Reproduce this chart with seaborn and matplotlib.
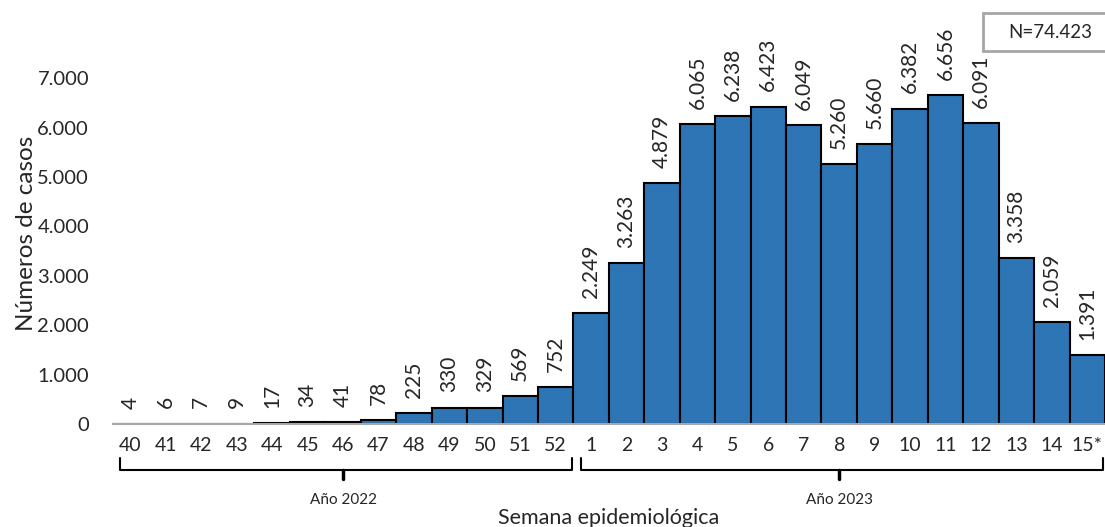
import seaborn as sns
import matplotlib.pyplot as plt
import pandas as pd
from matplotlib.patches import Rectangle

# Weekly cases, epidemiological weeks 40/2022 to 15/2023
weeks = ["40", "41", "42", "43", "44", "45", "46", "47", "48", "49", "50", "51", "52",
         "1", "2", "3", "4", "5", "6", "7", "8", "9", "10", "11", "12", "13", "14", "15*"]
cases = [4, 6, 7, 9, 17, 34, 41, 78, 225, 330, 329, 569, 752,
         2249, 3263, 4879, 6065, 6238, 6423, 6049, 5260, 5660, 6382, 6656, 6091, 3358, 2059, 1391]
years = ["Año 2022", "Año 2023"]
year_counts = [13, 15]
total_label = "N=74.423"

df = pd.DataFrame({"semana": weeks, "casos": cases})

sns.set_style("white")
plt.rcParams["font.family"] = ["Lato", "DejaVu Sans"]

fig = plt.figure(figsize=(11.05, 5.27), dpi=100)
ax = fig.add_axes([0.102, 0.1954, 0.898, 0.7218])

sns.barplot(data=df, x="semana", y="casos", order=weeks, color="#2E75B6",
            saturation=1, width=1, edgecolor="black", linewidth=1.5, ax=ax)

# Rotated value labels with dot as thousands separator
ax.bar_label(ax.containers[0], labels=[f"{v:,}".replace(",", ".") for v in cases],
             rotation=90, padding=11, fontsize=15)

ax.set_xlim(-0.5, len(weeks) - 0.5)
ax.set_ylim(0, 7700)
ax.set_yticks(range(0, 8000, 1000))
ax.set_yticklabels([f"{t:,}".replace(",", ".") for t in range(0, 8000, 1000)], fontsize=14.5)
ax.tick_params(axis="y", length=0, pad=17)
ax.tick_params(axis="x", length=0, pad=9, labelsize=14)

for s in ["left", "right", "top"]:
    ax.spines[s].set_visible(False)
ax.spines["bottom"].set_color("#A6A6A6")
ax.spines["bottom"].set_linewidth(1.5)

ax.set_ylabel("Números de casos", fontsize=17.5, labelpad=0)
ax.set_xlabel("Semana epidemiológica", fontsize=15.5, labelpad=39)

# Year braces under the week labels
trans = ax.get_xaxis_transform()
start = -0.5
for name, n in zip(years, year_counts):
    x0, x1 = start + 0.2, start + n - 0.05
    xm = start + n / 2
    y_top, y_mid, y_tip = -0.09, -0.12, -0.145
    ax.plot([x0, x0, x1, x1], [y_top, y_mid, y_mid, y_top], color="black", lw=1.5,
            transform=trans, clip_on=False)
    ax.plot([xm, xm], [y_mid, y_tip], color="black", lw=2.5,
            transform=trans, clip_on=False)
    ax.text(xm, -0.2, name, ha="center", va="center", fontsize=11,
            transform=trans)
    start += n

# N box, running off the right edge like the original
fig.patches.append(Rectangle((983 / 1105, 1 - 51 / 527), 0.2, 38 / 527,
                             transform=fig.transFigure, facecolor="white",
                             edgecolor="#A6A6A6", linewidth=2))
fig.text(1050 / 1105, 1 - 32 / 527, total_label, ha="center", va="center", fontsize=13.5)

plt.savefig("out.png", dpi=100)
